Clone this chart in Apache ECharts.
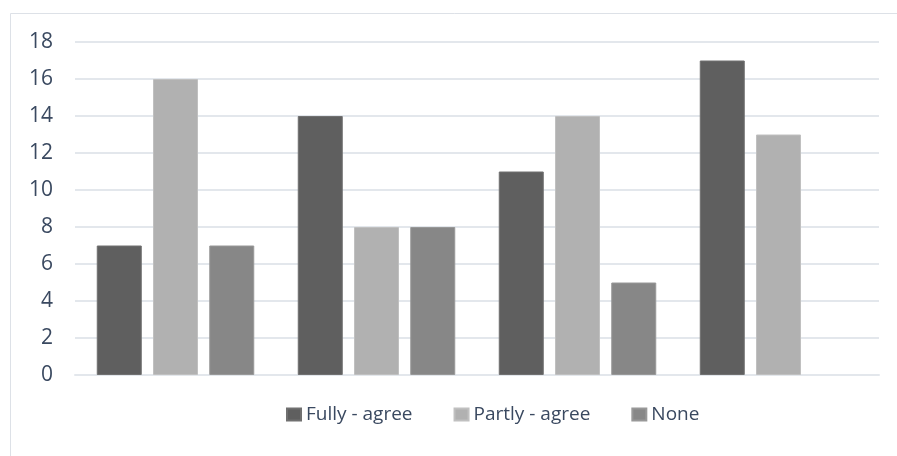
<!DOCTYPE html>
<html>
<head>
<meta charset="utf-8">
<script src="https://cdn.jsdelivr.net/npm/echarts@6/dist/echarts.min.js"></script>
<style>
  html, body { margin: 0; padding: 0; background: #ffffff; }
  #chart { width: 897px; height: 456px; }
</style>
</head>
<body>
<div id="chart"></div>
<script>
// Four unlabelled groups, three response series
const categories = ['1', '2', '3', '4'];
const fullyAgree = [7, 14, 11, 17];
const partlyAgree = [16, 8, 14, 13];
const none = [7, 8, 5, null];
const yTicks = { min: 0, max: 18, interval: 2 };

const textColor = '#3a4960';
const gridColor = '#e3e7ec';
const fontFamily = '"Open Sans", "Liberation Sans", sans-serif';

const chart = echarts.init(document.getElementById('chart'), null, { renderer: 'canvas' });

const barBase = {
  type: 'bar',
  barWidth: 45,
  barGap: '25%'
};

chart.setOption({
  animation: false,
  backgroundColor: '#ffffff',
  graphic: [{
    type: 'rect',
    shape: { x: 10.5, y: 13.5, width: 900, height: 460 },
    style: { fill: 'none', stroke: '#dde1e7', lineWidth: 1 },
    silent: true,
    z: -1
  }],
  grid: { left: 75, right: 18, top: 42, bottom: 81, containLabel: false },
  legend: {
    left: 281,
    top: 400,
    itemWidth: 14,
    itemHeight: 12,
    itemGap: 41,
    icon: 'rect',
    textStyle: { color: textColor, fontSize: 19, fontFamily: fontFamily },
    data: ['Fully - agree', 'Partly - agree', 'None']
  },
  xAxis: {
    type: 'category',
    data: categories,
    axisLine: { show: true, lineStyle: { color: gridColor, width: 2 } },
    axisTick: { show: false },
    axisLabel: { show: false }
  },
  yAxis: {
    type: 'value',
    min: yTicks.min,
    max: yTicks.max,
    interval: yTicks.interval,
    axisLine: { show: false },
    axisTick: { show: false },
    axisLabel: { color: textColor, fontSize: 21, fontFamily: fontFamily, margin: 22 },
    splitLine: { lineStyle: { color: gridColor, width: 2 } }
  },
  series: [
    Object.assign({}, barBase, {
      name: 'Fully - agree', data: fullyAgree,
      itemStyle: { color: '#5f5f5f', borderColor: '#707070', borderWidth: 1 }
    }),
    Object.assign({}, barBase, {
      name: 'Partly - agree', data: partlyAgree,
      itemStyle: { color: '#b1b1b1', borderColor: '#c0c0c0', borderWidth: 1 }
    }),
    Object.assign({}, barBase, {
      name: 'None', data: none,
      itemStyle: { color: '#878787', borderColor: '#989898', borderWidth: 1 }
    })
  ]
});
</script>
</body>
</html>
